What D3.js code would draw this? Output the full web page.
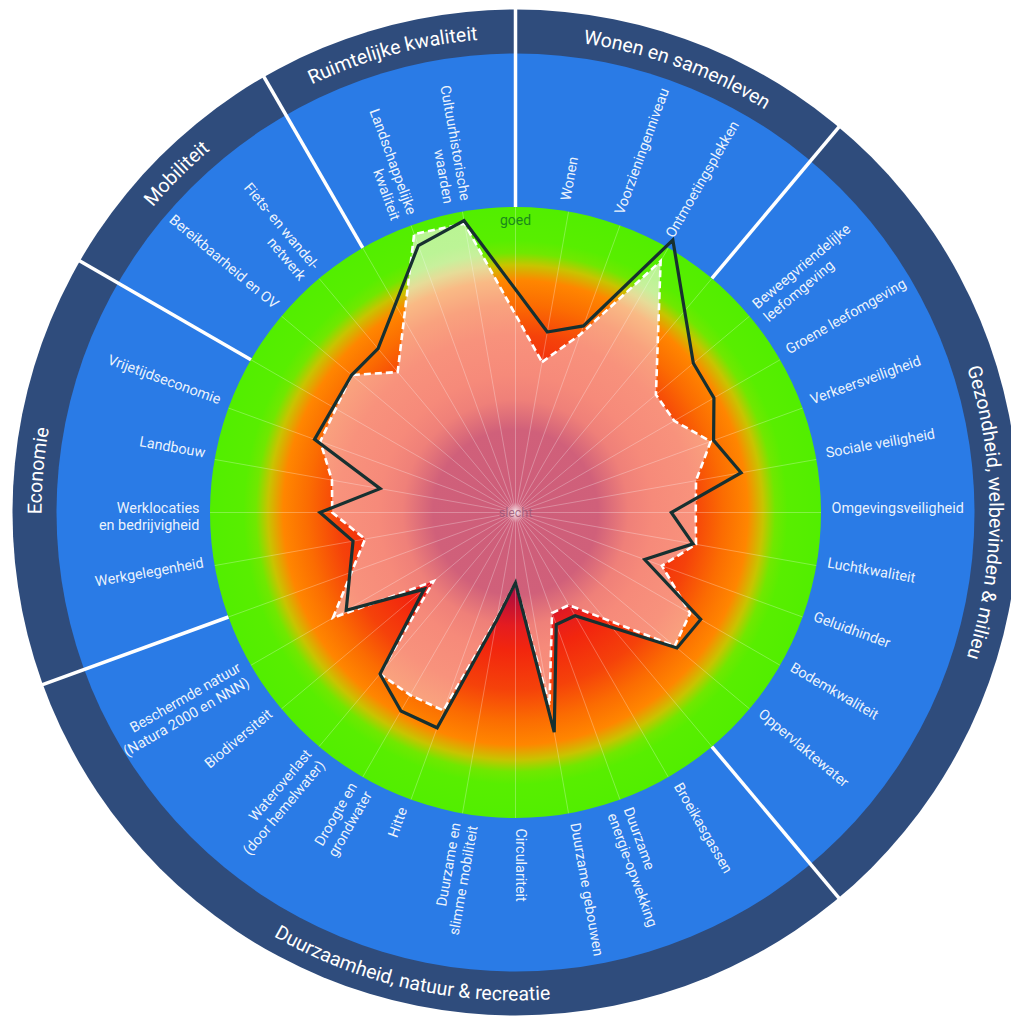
<!DOCTYPE html>
<html><head><meta charset="utf-8">
<script src="https://cdn.jsdelivr.net/npm/d3@7"></script>
<style>
body{margin:0;background:#fff}
svg{display:block}
text{font-family:Roboto,"Noto Sans","DejaVu Sans",sans-serif}
</style>
</head><body>
<svg id="chart" width="1011" height="1018"></svg>
<script>
// ---------- DATA ----------
const groups = ["Wonen en samenleven", "Gezondheid, welbevinden & milieu", "Duurzaamheid, natuur & recreatie", "Economie", "Mobiliteit", "Ruimtelijke kwaliteit"];
const groupSizes = [3, 9, 10, 4, 2, 2];
const categories = [
  "Wonen", "Voorzieningenniveau", "Ontmoetingsplekken",
  "Beweegvriendelijke\nleefomgeving", "Groene leefomgeving", "Verkeersveiligheid", "Sociale veiligheid", "Omgevingsveiligheid", "Luchtkwaliteit", "Geluidhinder", "Bodemkwaliteit", "Oppervlaktewater",
  "Broeikasgassen", "Duurzame\nenergie-opwekking", "Duurzame gebouwen", "Circulariteit", "Duurzame en\nslimme mobiliteit", "Hitte", "Droogte en\ngrondwater", "Wateroverlast\n(door hemelwater)", "Biodiversiteit", "Beschermde natuur\n(Natura 2000 en NNN)",
  "Werkgelegenheid", "Werklocaties\nen bedrijvigheid", "Landbouw", "Vrijetijdseconomie",
  "Bereikbaarheid en OV", "Fiets- en wandel-\nnetwerk",
  "Landschappelijke\nkwaliteit", "Cultuurhistorische\nwaarden"
];
// solid dark line (score 0 = slecht, 100 = goed)
const seriesSolid = [60, 65, 103, 76, 75, 69, 75, 51, 59, 45, 70, 69, 39, 39, 73, 23, 36, 75, 75, 69, 39, 64, 54, 64, 45, 70, 70, 70, 93, 97];
// dashed white line with filled area
const seriesDashed = [50, 62, 95, 60, 60, 68, 60, 59, 60, 51, 66, 68, 35, 35, 64, 23, 35, 69, 69, 69, 35, 69, 50, 60, 61, 68, 70, 60, 97, 96];
const scaleLabels = ["slecht", "goed"];

// ---------- LAYOUT ----------
const cx = 515.5, cy = 512.5;
const R0 = 305.5, R1 = 459, R2 = 503;
const blue = "#2a7be6", navy = "#2f4c7c";

// slot layout: one empty slot per group boundary
const slots = [], groupBounds = [];
let s = 0;
groupSizes.forEach(n => {
  const start = s; s++;
  for (let i = 0; i < n; i++) slots.push(s++);
  groupBounds.push([start, s]);
});
const nSlots = s; // 36

const angle = d3.scaleLinear().domain([0, nSlots]).range([0, 2 * Math.PI]);
const r = d3.scaleLinear().domain([0, 100]).range([0, R0]);
const pt = (a, rad) => [rad * Math.sin(a), -rad * Math.cos(a)];

const svg = d3.select("#chart");
const defs = svg.append("defs");
function radGrad(id, stops) {
  const g = defs.append("radialGradient").attr("id", id)
    .attr("gradientUnits", "userSpaceOnUse").attr("cx", 0).attr("cy", 0).attr("r", R0);
  stops.forEach(([o, c]) => g.append("stop").attr("offset", o).attr("stop-color", c));
}
radGrad("bg", [[0, "#b00c3c"], [0.27, "#b40e3a"], [0.37, "#e41c20"], [0.45, "#f2260e"], [0.58, "#f5420a"], [0.68, "#fb6c02"], [0.76, "#ff8600"], [0.81, "#c8c400"], [0.85, "#70e800"], [0.89, "#58ee00"], [1, "#52ee00"]]);
radGrad("inner", [[0, "#cd5d7a"], [0.27, "#d0607a"], [0.37, "#ef8079"], [0.45, "#f68a7a"], [0.58, "#f8927c"], [0.68, "#f9a27e"], [0.76, "#f9ba85"], [0.81, "#e6dc98"], [0.85, "#c8f09c"], [0.89, "#bcf496"], [1, "#b8f592"]]);
const glow = defs.append("radialGradient").attr("id", "glow");
glow.append("stop").attr("offset", 0).attr("stop-color", "#fff").attr("stop-opacity", 0.6);
glow.append("stop").attr("offset", 1).attr("stop-color", "#fff").attr("stop-opacity", 0);

const g = svg.append("g").attr("transform", `translate(${cx},${cy})`);

// rings
g.append("circle").attr("r", R2).attr("fill", navy);
g.append("circle").attr("r", R1).attr("fill", blue);
g.append("circle").attr("r", R0).attr("fill", "url(#bg)");

// group separators
groupBounds.forEach(([a]) => {
  const p0 = pt(angle(a), R0), p1 = pt(angle(a), R2 + 1);
  g.append("line").attr("x1", p0[0]).attr("y1", p0[1]).attr("x2", p1[0]).attr("y2", p1[1])
    .attr("stroke", "#fff").attr("stroke-width", 3.5);
});

// group labels along arcs
groupBounds.forEach(([a0, a1], i) => {
  const mid = (angle(a0) + angle(a1)) / 2 * 180 / Math.PI;
  const flip = mid > 100 && mid < 260;
  const rb = flip ? 488 : 474;
  const A = pt(angle(a0), rb), B = pt(angle(a1), rb);
  const d = flip
    ? `M${B[0]},${B[1]} A${rb},${rb} 0 0 0 ${A[0]},${A[1]}`
    : `M${A[0]},${A[1]} A${rb},${rb} 0 0 1 ${B[0]},${B[1]}`;
  defs.append("path").attr("id", "gp" + i).attr("d", d);
  g.append("text").attr("fill", "#fff").attr("font-size", 19.5)
    .append("textPath").attr("href", "#gp" + i).attr("xlink:href", "#gp" + i)
    .attr("startOffset", flip ? "52%" : "50%").attr("text-anchor", "middle").text(groups[i]);
});

// category labels
categories.forEach((c, i) => {
  const deg = angle(slots[i]) * 180 / Math.PI;
  const flip = deg > 180.5;
  const t = g.append("text")
    .attr("transform", `rotate(${deg - 90}) translate(316,0)${flip ? " rotate(180)" : ""}`)
    .attr("text-anchor", flip ? "end" : "start")
    .attr("fill", "#fff").attr("fill-opacity", 0.92).attr("font-size", 14.4);
  c.split("\n").forEach((ln, j) => t.append("tspan").attr("x", 0).attr("dy", j === 0 ? 0 : "1.2em").text(ln));
});

// radial polygons
const lineGen = d3.lineRadial()
  .angle(d => angle(d.slot)).radius(d => r(d.v)).curve(d3.curveLinearClosed);
const dataSolid = seriesSolid.map((v, i) => ({slot: slots[i], v}));
const dataDashed = seriesDashed.map((v, i) => ({slot: slots[i], v}));

g.append("path").attr("d", lineGen(dataDashed)).attr("fill", "url(#inner)");

// spokes
d3.range(nSlots).forEach(k => {
  const p = pt(angle(k), R0);
  g.append("line").attr("x1", 0).attr("y1", 0).attr("x2", p[0]).attr("y2", p[1])
    .attr("stroke", "#fff").attr("stroke-opacity", 0.3).attr("stroke-width", 0.9);
});

g.append("path").attr("d", lineGen(dataDashed)).attr("fill", "none")
  .attr("stroke", "#fff").attr("stroke-width", 2.6).attr("stroke-dasharray", "7,4");
g.append("path").attr("d", lineGen(dataSolid)).attr("fill", "none")
  .attr("stroke", "#173030").attr("stroke-width", 3.2).attr("stroke-linejoin", "miter");

// scale labels
g.append("circle").attr("r", 10).attr("fill", "url(#glow)");
g.append("text").attr("x", 0).attr("y", 4).attr("text-anchor", "middle")
  .attr("font-size", 12.5).attr("fill", "#9a5675").attr("fill-opacity", 0.85).text(scaleLabels[0]);
g.append("text").attr("x", 0).attr("y", -r(94)).attr("text-anchor", "middle")
  .attr("font-size", 14).attr("fill", "#1a8a1c").text(scaleLabels[1]);
</script>
</body></html>
